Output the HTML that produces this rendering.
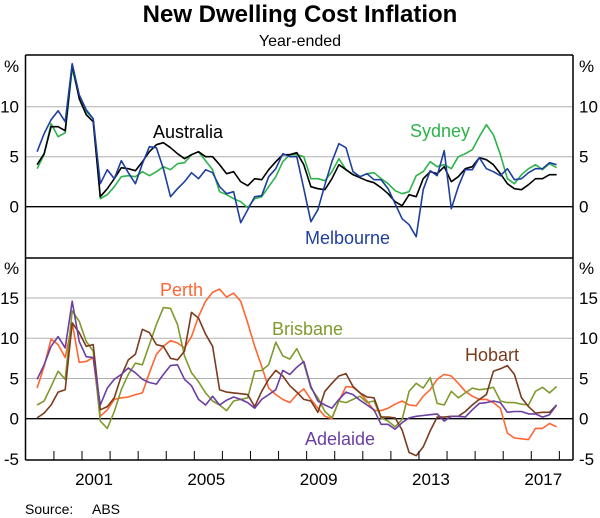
<!DOCTYPE html>
<html><head><meta charset="utf-8"><style>
body{margin:0;background:#fff}
svg{display:block;font-family:"Liberation Sans",Arial,sans-serif}
</style></head><body>
<svg id="chart" width="600" height="518" viewBox="0 0 600 518">
<text x="300" y="22" text-anchor="middle" font-size="24" font-weight="bold">New Dwelling Cost Inflation</text>
<text x="300" y="46" text-anchor="middle" font-size="16">Year-ended</text>
<text x="25" y="514" font-size="14">Source:</text>
<text x="92" y="514" font-size="14">ABS</text>
<g id="grid"></g><g id="lines"></g><g id="frame"></g><g id="labels"></g>
</svg>
<script>
const startYear = 1999.4;
const step = 0.25;
const yearTicks = [2001, 2005, 2009, 2013, 2017];
const topTicks = [0, 5, 10];
const bottomTicks = [-5, 0, 5, 10, 15];
const australia = [4.2,5.3,8.0,8.0,7.6,14.2,10.8,9.2,8.5,1.0,1.8,2.8,3.9,3.8,3.6,4.5,5.5,6.2,6.4,5.9,5.3,4.8,5.2,5.5,5.0,5.0,4.2,3.3,3.5,2.5,2.1,2.8,2.7,3.7,4.5,5.2,5.2,5.4,4.2,2.0,1.8,1.7,2.8,4.2,3.7,3.2,2.9,2.6,2.4,1.9,1.3,0.5,0.1,1.2,1.0,2.8,3.5,3.3,4.0,2.5,3.0,3.8,4.0,4.9,4.7,4.2,3.3,2.3,1.8,1.7,2.2,2.8,2.8,3.2,3.2];
const sydney = [3.8,5.2,8.3,7.0,7.4,13.8,11.0,9.5,8.8,0.8,1.2,2.0,3.0,3.1,3.0,3.5,3.1,3.5,4.0,3.7,4.3,4.4,5.2,5.5,4.6,3.7,1.5,1.2,0.8,0.5,-0.1,0.8,1.0,2.0,3.0,4.5,5.2,5.2,5.0,2.8,2.8,2.6,3.5,4.8,3.7,3.2,3.0,3.3,3.4,2.8,2.3,1.6,1.3,1.5,3.1,3.5,4.5,4.0,4.2,3.8,5.0,5.3,5.7,7.0,8.2,7.2,5.2,2.8,2.3,3.2,3.8,4.2,3.7,4.3,3.9];
const melbourne = [5.5,7.3,8.7,9.6,8.5,14.3,11.2,9.7,8.8,2.3,3.7,2.8,4.6,3.4,2.3,4.3,6.0,5.9,3.8,1.0,1.8,2.5,3.4,2.8,3.7,3.4,2.0,1.3,1.5,-1.6,-0.3,1.0,1.1,3.0,3.8,5.3,5.0,5.0,1.8,-1.5,-0.3,2.2,4.5,6.3,5.9,3.5,3.0,3.3,2.7,2.7,1.8,0.3,-1.2,-1.8,-3.0,1.7,3.6,3.1,5.6,-0.2,2.0,3.7,3.7,4.9,3.8,3.5,3.1,3.8,2.7,2.8,3.4,3.8,3.8,4.4,4.2];
const perth = [3.8,6.5,9.9,9.2,7.6,11.9,7.0,7.1,7.6,0.3,1.1,2.4,2.6,2.7,3.0,3.2,5.7,8.0,9.0,9.7,9.4,8.8,10.2,12.7,14.6,15.7,16.1,15.1,15.6,14.6,11.9,9.0,6.5,3.8,3.0,2.4,2.0,3.0,3.7,2.4,1.3,0.3,0.0,2.2,4.0,3.9,3.2,2.2,1.0,1.0,1.3,1.8,2.2,1.7,1.6,2.8,3.6,4.9,5.5,5.3,4.4,3.4,2.8,2.4,2.4,2.0,1.3,-1.8,-2.4,-2.5,-2.6,-1.2,-1.2,-0.6,-1.0];
const brisbane = [1.7,2.2,4.0,5.9,4.9,13.4,12.1,9.6,8.4,-0.3,-1.2,0.9,3.6,5.5,6.9,6.7,9.2,11.7,13.8,13.7,11.7,7.8,5.7,4.6,3.2,2.2,1.7,1.0,2.2,2.4,2.6,5.9,6.0,6.7,9.5,7.8,7.4,8.7,6.9,3.8,2.6,0.9,0.1,2.2,2.0,2.4,2.8,2.0,2.2,0.1,-0.3,-1.0,-0.1,3.4,4.4,3.8,5.1,1.9,1.7,3.4,2.6,3.2,3.8,3.6,3.7,3.9,2.2,2.0,2.0,1.8,1.7,3.4,3.9,3.2,4.0];
const hobart = [0.1,0.7,1.7,3.3,3.6,11.9,10.7,9.0,9.2,1.1,1.5,2.6,5.3,7.3,8.0,11.1,10.7,9.2,9.0,7.5,7.3,8.4,13.2,12.5,10.5,9.0,3.6,3.3,3.2,3.1,3.0,1.5,3.4,4.9,6.0,5.3,4.1,3.3,2.4,2.2,0.8,3.4,4.4,5.3,5.6,4.0,3.2,2.7,2.6,0.2,0.2,0.1,-1.4,-4.2,-4.6,-3.5,-1.5,0.2,0.2,0.3,0.3,0.9,1.7,2.4,3.0,5.9,6.2,6.6,5.5,2.6,1.5,0.7,0.8,0.8,1.7];
const adelaide = [4.9,6.7,9.0,10.2,8.8,14.6,9.6,7.7,7.6,1.7,3.8,4.9,5.5,6.3,5.7,4.9,4.5,4.3,5.5,6.6,6.7,4.9,4.1,2.4,1.7,2.8,1.7,2.3,2.7,2.4,2.0,1.3,2.4,3.0,3.6,6.0,5.5,6.4,7.1,4.0,2.2,1.7,1.3,2.4,3.3,3.0,2.3,1.7,1.1,-0.7,-0.7,-1.3,-0.5,0.1,0.3,0.4,0.5,0.6,-0.3,0.3,0.3,0.2,1.1,1.9,2.0,2.2,2.0,0.8,0.9,0.9,0.6,0.6,0.2,0.5,1.7];

const NS = "http://www.w3.org/2000/svg";
const L = 25.5, R = 573;
function x(t){ return 82 + (t - 2001) * 28.08; }
function yTop(v){ return 206.7 - v * 10; }
function yBot(v){ return 418.7 - v * 8.05; }
function mk(tag, attrs, parent){ const e=document.createElementNS(NS,tag); for(const k in attrs) e.setAttribute(k,attrs[k]); document.getElementById(parent).appendChild(e); return e; }

topTicks.forEach(v=>{
  const g = mk('line',{x1:L,x2:R,y1:yTop(v),y2:yTop(v),stroke:v===0?'#000':'#b0b0b0','stroke-width':v===0?1.3:1},'grid');
  
  
  [[19,'end'],[579,'start']].forEach(([px,a])=>{
    const t = mk('text',{x:px,y:yTop(v)+6,'text-anchor':a,'font-size':17},'labels'); t.textContent=v;
    
    
  });
});
bottomTicks.forEach(v=>{
  if(v!==-5){
    const g = mk('line',{x1:L,x2:R,y1:yBot(v),y2:yBot(v),stroke:v===0?'#000':'#b0b0b0','stroke-width':v===0?1.3:1},'grid');
    
    
  }
  [[19,'end'],[579,'start']].forEach(([px,a])=>{
    const t = mk('text',{x:px,y:yBot(v)+6,'text-anchor':a,'font-size':17},'labels'); t.textContent=v;
    
    
  });
});
[[4,72],[579,72],[4,274],[579,274]].forEach(([px,py])=>{
  const t = mk('text',{x:px,y:py,'font-size':17},'labels'); t.textContent='%';
  
  
});

[[L,55,R,55],[L,258,R,258],[L,460,R,460],[L,55,L,460],[R,55,R,460]].forEach(c=>{
  const f = mk('line',{x1:c[0],y1:c[1],x2:c[2],y2:c[3],stroke:'#000','stroke-width':1.5},'frame');
  
  
});
for(let yr=2000; yr<=2018; yr++){
  const tk = mk('line',{x1:x(yr),x2:x(yr),y1:460,y2:451,stroke:'#000','stroke-width':1},'frame');
  
  
}
yearTicks.forEach(yr=>{
  const t = mk('text',{x:x(yr)+12,y:485,'text-anchor':'middle','font-size':17},'labels'); t.textContent=yr;
  
  
});

function draw(vals, yf, color, name){
  const d = vals.map((v,i)=>(i?'L':'M')+x(startYear+i*step).toFixed(1)+','+yf(v).toFixed(1)).join(' ');
  const p = mk('path',{d:d,fill:'none',stroke:color,'stroke-width':1.6,'stroke-linejoin':'round'},'lines');
  
  
}
draw(sydney, yTop, '#2db34a', 'sydney-line');
draw(australia, yTop, '#000000', 'australia-line');
draw(melbourne, yTop, '#1f3f9e', 'melbourne-line');
draw(perth, yBot, '#ff6633', 'perth-line');
draw(brisbane, yBot, '#7f9a2e', 'brisbane-line');
draw(hobart, yBot, '#7a3b1e', 'hobart-line');
draw(adelaide, yBot, '#6a3fa0', 'adelaide-line');

[['Australia',153,138,'#000'],['Sydney',410,137,'#2db34a'],['Melbourne',305,244,'#1f3f9e'],['Perth',160,296,'#ff6633'],['Brisbane',272,335,'#7f9a2e'],['Hobart',465,361,'#7a3b1e'],['Adelaide',305,445,'#6a3fa0']].forEach(([s,px,py,c])=>{
  const t = mk('text',{x:px,y:py,'font-size':18,fill:c},'labels'); t.textContent=s;
  
  
});
</script>
</body></html>
